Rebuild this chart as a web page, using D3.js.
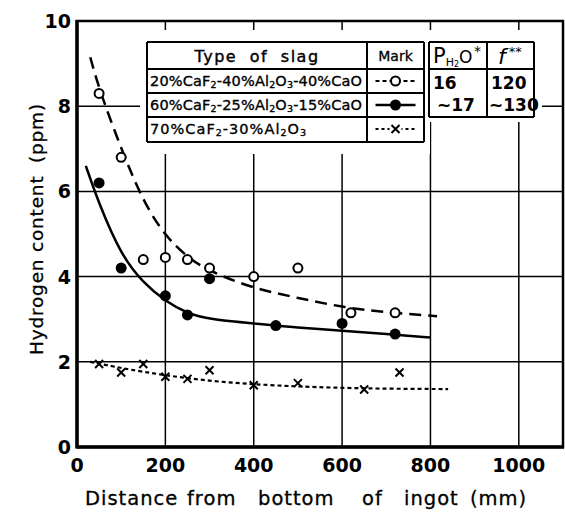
<!DOCTYPE html>
<html>
<head>
<meta charset="utf-8">
<script src="https://cdn.jsdelivr.net/npm/d3@7"></script>
<style>
  body { margin: 0; background: #fff; }
  svg { display: block; }
  text { font-family: "DejaVu Sans", sans-serif; fill: #000; }
</style>
</head>
<body>
<svg id="chart" width="565" height="523"></svg>
<script>
// Axis ticks
const xTicks = [0, 200, 400, 600, 800, 1000];
const yTicks = [0, 2, 4, 6, 8, 10];

// 20%CaF2-40%Al2O3-40%CaO (open circles)
const openX = [50, 100, 150, 200, 250, 300, 400, 500, 620, 720];
const openY = [8.3, 6.8, 4.4, 4.45, 4.4, 4.2, 4.0, 4.2, 3.15, 3.15];
// 60%CaF2-25%Al2O3-15%CaO (filled circles)
const filledX = [50, 100, 200, 250, 300, 450, 600, 720];
const filledY = [6.2, 4.2, 3.55, 3.1, 3.95, 2.85, 2.9, 2.65];
// 70%CaF2-30%Al2O3 (crosses)
const crossX = [50, 100, 150, 200, 250, 300, 400, 500, 650, 730];
const crossY = [1.95, 1.75, 1.95, 1.65, 1.6, 1.8, 1.45, 1.5, 1.35, 1.75];

// Hand-drawn trend curves through each series
const openFitX = [30, 50, 100, 150, 200, 250, 300, 400, 500, 600, 700, 815];
const openFitY = [9.15, 8.4, 7.0, 5.75, 4.95, 4.45, 4.12, 3.72, 3.5, 3.28, 3.16, 3.07];
const filledFitX = [20, 50, 100, 150, 200, 250, 300, 400, 500, 600, 700, 800];
const filledFitY = [6.6, 5.7, 4.5, 3.85, 3.42, 3.13, 3.0, 2.9, 2.8, 2.73, 2.65, 2.57];
const crossFitX = [30, 100, 200, 300, 400, 500, 650, 840];
const crossFitY = [2.0, 1.85, 1.68, 1.55, 1.47, 1.42, 1.37, 1.36];

// Legend table contents
const slagTypes = [
  [["20%CaF"], ["2", "sub"], ["-40%Al"], ["2", "sub"], ["O"], ["3", "sub"], ["-40%CaO"]],
  [["60%CaF"], ["2", "sub"], ["-25%Al"], ["2", "sub"], ["O"], ["3", "sub"], ["-15%CaO"]],
  [["70%CaF"], ["2", "sub"], ["-30%Al"], ["2", "sub"], ["O"], ["3", "sub"]]
];
const pH2O = ["16", "~17"];
const fValues = ["120", "~130"];

// Axis title words with their start offsets
const xTitleWords = ["Distance", "from", "bottom", "of", "ingot", "(mm)"];
const xTitleAt = [85, 187, 258, 362, 404, 470];
const yTitleWords = ["Hydrogen", "content", "(ppm)"];
const yTitleAt = [355, 252, 163];

const svg = d3.select("#chart");
const L = 77, R = 563, T = 21, B = 447;

const x = d3.scaleLinear().domain([0, 1100]).range([L, R]);
const y = d3.scaleLinear().domain([0, 10]).range([B, T]);

// Grid
const grid = svg.append("g").attr("stroke", "#000").attr("stroke-width", 1.5);
grid.selectAll("line.v").data(xTicks.filter(d => d > 0)).join("line")
  .attr("x1", d => x(d)).attr("x2", d => x(d)).attr("y1", T).attr("y2", B);
grid.selectAll("line.h").data(yTicks.filter(d => d > 0 && d < 10)).join("line")
  .attr("x1", L).attr("x2", R).attr("y1", d => y(d)).attr("y2", d => y(d));

// Blank space around the legend table
svg.append("rect").attr("x", 140).attr("y", 30).attr("width", 290).attr("height", 124).attr("fill", "#fff");
svg.append("rect").attr("x", 420).attr("y", 30).attr("width", 122).attr("height", 92).attr("fill", "#fff");

// Frame
svg.append("rect").attr("x", L).attr("y", T).attr("width", R - L).attr("height", B - T)
  .attr("fill", "none").attr("stroke", "#000").attr("stroke-width", 2.5);
svg.append("line").attr("x1", L).attr("x2", L).attr("y1", T - 1).attr("y2", B + 1.5)
  .attr("stroke", "#000").attr("stroke-width", 3.5);
svg.append("line").attr("x1", L).attr("x2", R + 1).attr("y1", B).attr("y2", B)
  .attr("stroke", "#000").attr("stroke-width", 3.5);

// Tick labels
svg.append("g").selectAll("text").data(xTicks).join("text")
  .attr("x", d => x(d)).attr("y", 472).attr("text-anchor", "middle")
  .attr("font-size", 19).attr("font-weight", "bold").text(d => d);
svg.append("g").selectAll("text").data(yTicks).join("text")
  .attr("x", 71).attr("y", d => y(d) + 7).attr("text-anchor", "end")
  .attr("font-size", 19).attr("font-weight", "bold").text(d => d);

// Axis titles
const xt = svg.append("text").attr("y", 505).attr("font-size", 19.5)
  .attr("letter-spacing", 1).attr("stroke", "#000").attr("stroke-width", 0.3);
xTitleWords.forEach((w, i) => xt.append("tspan").attr("x", xTitleAt[i]).text(w));
const yt = svg.append("text").attr("transform", "rotate(-90)").attr("y", 43)
  .attr("font-size", 18.5).attr("letter-spacing", 0.8)
  .attr("stroke", "#000").attr("stroke-width", 0.3);
yTitleWords.forEach((w, i) => yt.append("tspan").attr("x", -yTitleAt[i]).text(w));

// Trend curves
const line = d3.line().x(d => x(d[0])).y(d => y(d[1])).curve(d3.curveBasis);
svg.append("path").datum(d3.zip(openFitX, openFitY)).attr("d", line)
  .attr("fill", "none").attr("stroke", "#000").attr("stroke-width", 2.5)
  .attr("stroke-dasharray", "12,7");
svg.append("path").datum(d3.zip(filledFitX, filledFitY)).attr("d", line)
  .attr("fill", "none").attr("stroke", "#000").attr("stroke-width", 2.5);
svg.append("path").datum(d3.zip(crossFitX, crossFitY)).attr("d", line)
  .attr("fill", "none").attr("stroke", "#000").attr("stroke-width", 2.2)
  .attr("stroke-dasharray", "4,3");

// Markers
svg.append("g").selectAll("circle").data(d3.zip(openX, openY)).join("circle")
  .attr("cx", d => x(d[0])).attr("cy", d => y(d[1])).attr("r", 4.5)
  .attr("fill", "#fff").attr("stroke", "#000").attr("stroke-width", 2);
svg.append("g").selectAll("circle").data(d3.zip(filledX, filledY)).join("circle")
  .attr("cx", d => x(d[0])).attr("cy", d => y(d[1])).attr("r", 5.5).attr("fill", "#000");
const crossPath = d => {
  const cx = x(d[0]), cy = y(d[1]), s = 4;
  return `M${cx - s},${cy - s}L${cx + s},${cy + s}M${cx - s},${cy + s}L${cx + s},${cy - s}`;
};
svg.append("g").selectAll("path").data(d3.zip(crossX, crossY)).join("path")
  .attr("d", crossPath).attr("stroke", "#000").attr("stroke-width", 2).attr("fill", "none");

// Legend table
const tb = svg.append("g");
const tl = 147, c1 = 367, c2 = 424, c3 = 429, c4 = 487, c5 = 534;
const r0 = 42, r1 = 69, r2 = 93, r3 = 117, r4 = 142;
const seg = (x1, y1, x2, y2, w = 2) => tb.append("line")
  .attr("x1", x1).attr("y1", y1).attr("x2", x2).attr("y2", y2)
  .attr("stroke", "#000").attr("stroke-width", w);
// left block: type + mark
seg(tl, r0, c2, r0); seg(tl, r1, c2, r1); seg(tl, r2, c2, r2); seg(tl, r3, c2, r3); seg(tl, r4, c2, r4);
seg(tl, r0, tl, r4); seg(c1, r0, c1, r4); seg(c2, r0, c2, r4);
// right block: P and f
seg(c3, r0, c5, r0); seg(c3, r1, c5, r1); seg(c3, r3, c5, r3);
seg(c3, r0, c3, r3); seg(c4, r0, c4, r3); seg(c5, r0, c5, r3);

tb.append("text").attr("x", (tl + c1) / 2).attr("y", 62).attr("text-anchor", "middle")
  .attr("font-size", 16).attr("letter-spacing", 1.5).attr("word-spacing", 6)
  .attr("stroke", "#000").attr("stroke-width", 0.4).text("Type of slag");
tb.append("text").attr("x", (c1 + c2) / 2).attr("y", 61).attr("text-anchor", "middle")
  .attr("font-size", 14).attr("stroke", "#000").attr("stroke-width", 0.3).text("Mark");

// P_H2O* header
const ph = tb.append("text").attr("x", 433).attr("y", 63).attr("font-size", 21);
ph.append("tspan").text("P");
ph.append("tspan").attr("font-size", 11).attr("dy", 3).text("H");
ph.append("tspan").attr("font-size", 8).attr("dy", 1).text("2");
ph.append("tspan").attr("font-size", 17).attr("dy", -4).text("O");
tb.append("text").attr("x", 474).attr("y", 56).attr("font-size", 14).text("*");
// f** header
const fh = tb.append("text").attr("x", 498).attr("y", 64).attr("font-size", 22)
  .attr("font-style", "italic").attr("font-family", "DejaVu Serif, serif");
fh.append("tspan").text("f");
fh.append("tspan").attr("font-size", 13).attr("dy", -8).attr("dx", 3)
  .attr("font-family", "DejaVu Sans, sans-serif").attr("font-style", "normal").text("**");

// slag rows
const rowBase = [86, 110, 134];
slagTypes.forEach((parts, i) => {
  const t = tb.append("text").attr("x", 150).attr("y", rowBase[i]).attr("font-size", 14.5)
    .attr("stroke", "#000").attr("stroke-width", 0.35);
  let shift = 0;
  parts.forEach(p => {
    const sub = p[1] === "sub";
    t.append("tspan").text(p[0])
      .attr("font-size", sub ? 9.5 : null)
      .attr("dy", sub ? 2 - shift : -shift);
    shift = sub ? 2 : 0;
  });
  if (i < 2) t.attr("textLength", 212).attr("lengthAdjust", "spacing");
  else t.attr("textLength", 156).attr("lengthAdjust", "spacing");
});

// mark column symbols
const mx = (c1 + c2) / 2;
seg(mx - 20, 81, mx + 20, 81, 2).attr("stroke-dasharray", "4,3");
tb.append("circle").attr("cx", mx).attr("cy", 81).attr("r", 4.5)
  .attr("fill", "#fff").attr("stroke", "#000").attr("stroke-width", 2);
seg(mx - 20, 105, mx + 20, 105, 2.5);
tb.append("circle").attr("cx", mx).attr("cy", 105).attr("r", 5.5).attr("fill", "#000");
seg(mx - 20, 129, mx + 20, 129, 2).attr("stroke-dasharray", "3,3");
tb.append("rect").attr("x", mx - 6).attr("y", 123).attr("width", 12).attr("height", 12).attr("fill", "#fff");
tb.append("path").attr("d", `M${mx - 4},${125}L${mx + 4},${133}M${mx - 4},${133}L${mx + 4},${125}`)
  .attr("stroke", "#000").attr("stroke-width", 2);

// P and f values
tb.append("text").attr("x", 433).attr("y", 89).attr("font-size", 17).attr("font-weight", "bold").text(pH2O[0]);
tb.append("text").attr("x", 437).attr("y", 111).attr("font-size", 17).attr("font-weight", "bold").text(pH2O[1]);
tb.append("text").attr("x", 491).attr("y", 89).attr("font-size", 17).attr("font-weight", "bold").text(fValues[0]);
tb.append("text").attr("x", 489).attr("y", 111).attr("font-size", 17).attr("font-weight", "bold").text(fValues[1]);
</script>
</body>
</html>
